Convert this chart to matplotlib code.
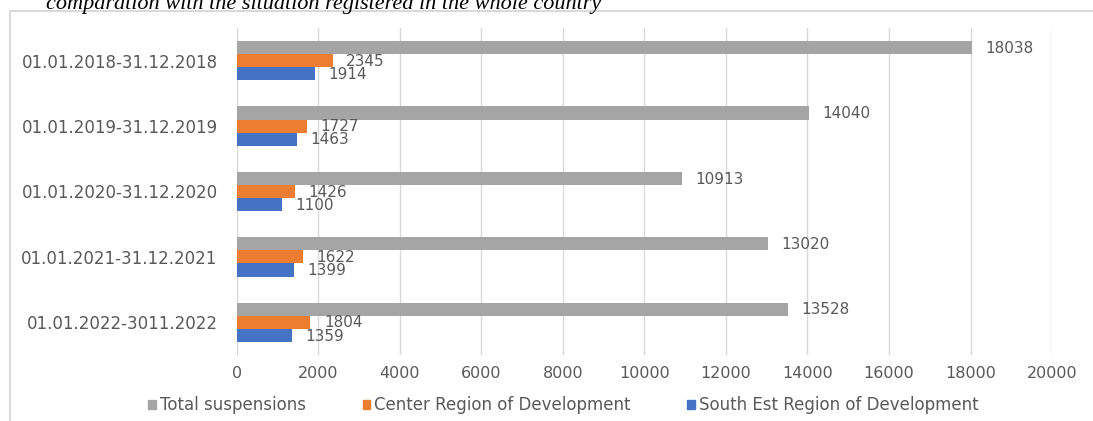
import matplotlib.pyplot as plt
import matplotlib.patches as mpatches
import numpy as np

periods = ["01.01.2018-31.12.2018", "01.01.2019-31.12.2019", "01.01.2020-31.12.2020",
           "01.01.2021-31.12.2021", "01.01.2022-3011.2022"]
total = [18038, 14040, 10913, 13020, 13528]
center = [2345, 1727, 1426, 1622, 1804]
south_est = [1914, 1463, 1100, 1399, 1359]
series_names = ["Total suspensions", "Center Region of Development",
                "South Est Region of Development"]
xticks = np.arange(0, 20001, 2000)

colors = ["#A5A5A5", "#ED7D31", "#4472C4"]
txt = "#595959"

fig = plt.figure(figsize=(10.93, 4.21), dpi=100)
ax = fig.add_axes([0.2168, 0.1568, 0.7457, 0.7767])

y = np.arange(len(periods))
h = 0.2
for vals, off, c, name in zip([total, center, south_est], [-h, 0, h], colors, series_names):
    bars = ax.barh(y + off, vals, height=h, color=c, label=name, zorder=3)
    for b, v in zip(bars, vals):
        ax.text(v + 330, b.get_y() + b.get_height() / 2 + 0.01, str(v),
                va="center", ha="left", fontsize=11, color=txt)

ax.set_ylim(len(periods) - 0.5, -0.5)
ax.set_xlim(0, 20000)
ax.set_xticks(xticks)
ax.set_yticks(y)
ax.set_yticklabels(periods, fontsize=12, color=txt)
ax.tick_params(axis="x", labelsize=11.5, labelcolor=txt, length=0, pad=8)
ax.tick_params(axis="y", length=0, pad=14)
ax.grid(axis="x", color="#D9D9D9", linewidth=1, zorder=0)
for s in ["top", "right", "bottom"]:
    ax.spines[s].set_visible(False)
ax.spines["left"].set_color("#D9D9D9")

handles = [mpatches.Patch(color=c, label=n) for c, n in zip(colors, series_names)]
fig.legend(handles=handles, loc="center", bbox_to_anchor=(0.5156, 0.038), ncol=3,
           frameon=False, fontsize=12, handlelength=0.45, handleheight=0.45,
           handletextpad=0.25, columnspacing=3.4, labelcolor=txt)

# chart frame and the cut-off caption above it
fig.patches.append(mpatches.Rectangle((10 / 1093, -0.1), 1.2, 1.1 - 11 / 421,
                                      transform=fig.transFigure, fill=False,
                                      edgecolor="#D9D9D9", linewidth=1.5))
fig.text(46 / 1093, 1 - 9 / 421, "comparation with the situation registered in the whole country",
         family="Liberation Serif", style="italic", fontsize=16, va="baseline", ha="left")

fig.savefig("out.png", dpi=100)
